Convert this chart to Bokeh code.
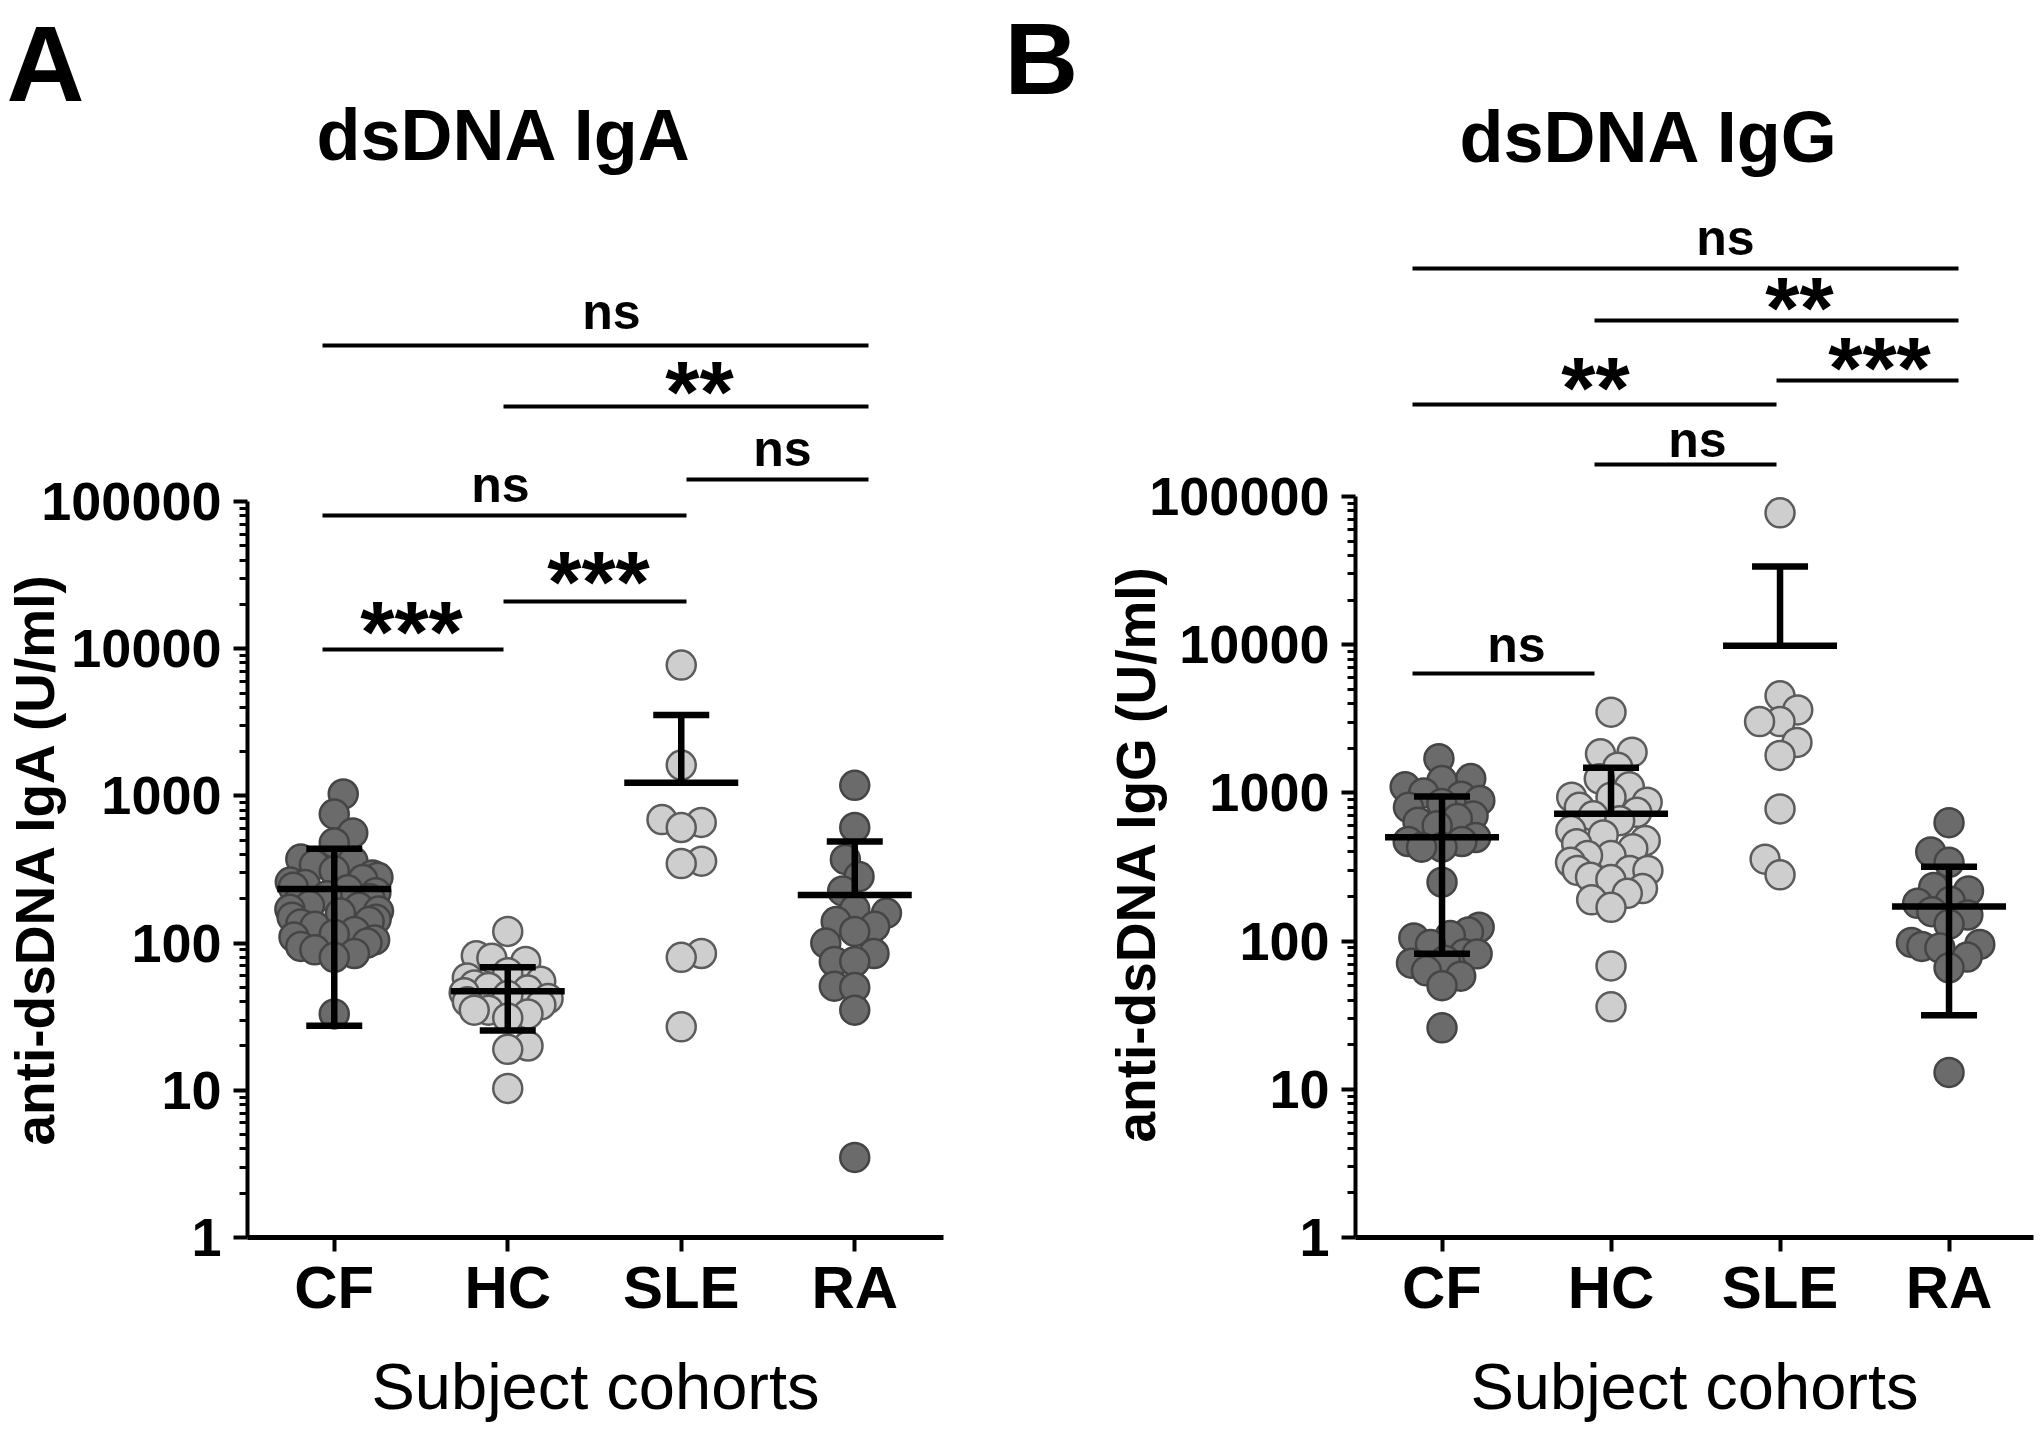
import numpy as np
from bokeh.plotting import figure
from bokeh.models import Range1d, FixedTicker, NumeralTickFormatter, Label, ColumnDataSource, Title
from bokeh.layouts import row
from bokeh.embed import file_html
from bokeh.resources import INLINE
from bokeh.core.properties import value

# ---------------- data ----------------
CATEGORIES = ["CF", "HC", "SLE", "RA"]
Y_TICKS = [1, 10, 100, 1000, 10000, 100000]

# Panel A : anti-dsDNA IgA (U/ml)
IGA_CF = [1030, 753, 560, 479, 372, 360, 340, 310, 290, 280, 270, 260, 250, 240, 230,
          220, 210, 200, 190, 180, 175, 170, 165, 160, 150, 145, 140, 135, 130, 120,
          115, 110, 105, 100, 95, 90, 85, 80, 33]
IGA_HC = [120, 82, 79, 75, 63, 58, 55, 52, 50, 48, 46, 44, 42, 40, 38, 35, 35, 33, 31,
          20, 19, 10.3]
IGA_SLE = [7740, 1620, 690, 660, 610, 360, 347, 85, 80, 27]
IGA_RA = [1180, 610, 370, 283, 226, 170, 160, 140, 130, 120, 100, 85, 75, 75, 51, 50,
          35, 3.5]
IGA_MEAN = [233, 47, 1230, 212]
IGA_UPPER = [438, 68.5, 3540, 490]
IGA_LOWER = [27.4, 25.5, None, None]
IGA_SIG = [(0, 3, "ns"), (1, 3, "**"), (2, 3, "ns"), (0, 2, "ns"), (1, 2, "***"), (0, 1, "***")]

# Panel B : anti-dsDNA IgG (U/ml)
IGG_CF = [1700, 1250, 1212, 1100, 1000, 950, 889, 848, 800, 700, 671, 634, 600, 500,
          470, 470, 430, 430, 250, 124, 115, 109, 105, 95, 82, 82, 74, 71, 63, 58, 50, 26]
IGG_HC = [3505, 1883, 1836, 1490, 1245, 1100, 935, 935, 865, 800, 740, 700, 650, 557,
          520, 477, 454, 420, 378, 378, 340, 300, 300, 300, 270, 260, 226, 210, 190,
          169, 68, 36]
IGG_SLE = [77600, 4520, 3630, 3030, 3030, 2190, 1790, 780, 357, 280]
IGG_RA = [630, 400, 340, 230, 218, 186, 180, 158, 150, 130, 98, 95, 92, 90, 78, 66, 13]
IGG_MEAN = [502, 723, 9840, 171]
IGG_UPPER = [946, 1477, 33700, 318]
IGG_LOWER = [82, None, None, 31.6]
IGG_SIG = [(0, 3, "ns"), (1, 3, "**"), (2, 3, "***"), (0, 2, "**"), (1, 2, "ns"), (0, 1, "ns")]

# ---------------- styles / layout ----------------
FONT = "Liberation Sans"
DARK_FILL, DARK_LINE = "#6b6b6b", "#454545"
LIGHT_FILL, LIGHT_LINE = "#cecece", "#5c5c5c"
FILLS = [DARK_FILL, LIGHT_FILL, LIGHT_FILL, DARK_FILL]
EDGES = [DARK_LINE, LIGHT_LINE, LIGHT_LINE, DARK_LINE]

H = 1431
FRAME_TOP_PAGE = 84
AXIS_PAGE_Y = 1237

# sig_pos: (line page y, text page x, text page y)
GEOM_A = dict(fig_x0=0, width=1000, frame_l=247, frame_r=943, unit_px=173.5,
              x_start=-0.5, decade=147.2,
              anchors=[322, 503, 686, 868],
              sig_pos=[(345, 611, 311), (406, 699, 391), (479, 782, 448),
                       (515, 500, 484), (601, 598, 581), (649, 411, 631)],
              letter=("A", 6, "108px", -78), title=(504, 134),
              ylabel_offset=92, ylabel_standoff=-54)
GEOM_B = dict(fig_x0=1000, width=1038, frame_l=1355, frame_r=2033, unit_px=169.0,
              x_start=-0.512, decade=148.2,
              anchors=[1412, 1594, 1776, 1958],
              sig_pos=[(268, 1725, 237), (320, 1799, 307), (380, 1879, 367),
                       (404, 1595, 387), (464, 1697, 439), (673, 1516, 644)],
              letter=("B", 1004, "102px", -63), title=(1649, 136),
              ylabel_offset=95, ylabel_standoff=-40)


def swarm_offsets(vals, decade_px, unit_px, gap, max_half):
    """Deterministic beeswarm: nearest free slot to the centre, softly limited in width."""
    ys = np.log10(np.asarray(vals, float)) * decade_px
    order = np.argsort(ys)
    placed = []
    xs = np.zeros(len(ys))
    for n, i in enumerate(order):
        y = ys[i]
        cands = [0.0]
        for (qx, qy) in placed:
            dy = y - qy
            if abs(dy) < gap:
                dx = np.sqrt(gap * gap - dy * dy)
                cands += [qx + dx, qx - dx]
        sgn = 1 if n % 2 else -1
        cands.sort(key=lambda c: (round(abs(c), 6), sgn * c))
        for c in cands:
            if all((c - qx) ** 2 + (y - qy) ** 2 >= gap * gap - 1e-6 for qx, qy in placed):
                xs[i] = c
                placed.append((c, y))
                break
    xs = max_half * np.tanh(xs / max_half)
    return xs / unit_px


def build_panel(groups, means, uppers, lowers, sig, title, ylabel, g):
    def px2x(px):
        return g["x_start"] + (px - g["frame_l"]) / g["unit_px"]

    def py2y(py):
        return 10 ** ((AXIS_PAGE_Y - py) / g["decade"])

    x_end = px2x(g["frame_r"])
    y_end = py2y(FRAME_TOP_PAGE)
    p = figure(width=g["width"], height=H,
               x_range=Range1d(g["x_start"], x_end), y_range=Range1d(1, y_end),
               y_axis_type="log", output_backend="svg", toolbar_location=None,
               min_border_left=g["frame_l"] - g["fig_x0"],
               min_border_right=g["fig_x0"] + g["width"] - g["frame_r"],
               min_border_top=FRAME_TOP_PAGE,
               min_border_bottom=H - AXIS_PAGE_Y)
    p.outline_line_color = None
    p.grid.visible = False
    p.background_fill_color = "white"
    p.border_fill_color = "white"
    p.title.visible = False

    # y axis
    ya = p.yaxis[0]
    ya.ticker = FixedTicker(ticks=Y_TICKS,
                            minor_ticks=[m * 10 ** k for k in range(5) for m in range(2, 10)])
    ya.formatter = NumeralTickFormatter(format="0")
    ya.bounds = (1, 100000)
    ya.axis_line_width = 4
    ya.major_tick_line_width = 4
    ya.major_tick_out = 14
    ya.major_tick_in = 0
    ya.minor_tick_line_width = 3
    ya.minor_tick_out = 8
    ya.minor_tick_in = 0
    ya.major_label_standoff = 12
    ya.major_label_text_font = FONT
    ya.major_label_text_font_style = "bold"
    ya.major_label_text_font_size = "54px"
    ya.major_label_text_color = "black"

    # x axis
    xa = p.xaxis[0]
    xa.ticker = FixedTicker(ticks=list(range(len(CATEGORIES))))
    xa.major_label_overrides = {i: c for i, c in enumerate(CATEGORIES)}
    xa.axis_line_width = 5
    xa.major_tick_line_width = 4
    xa.major_tick_out = 14
    xa.major_tick_in = 0
    xa.minor_tick_line_color = None
    xa.major_label_standoff = 2
    xa.major_label_text_font = FONT
    xa.major_label_text_font_style = "bold"
    xa.major_label_text_font_size = "60px"
    xa.major_label_text_color = "black"
    xa.axis_label = "Subject cohorts"
    xa.axis_label_text_font = FONT
    xa.axis_label_text_font_style = "normal"
    xa.axis_label_text_font_size = "65px"
    xa.axis_label_text_color = "black"
    xa.axis_label_standoff = 26

    # points (beeswarm layout)
    for i, vals in enumerate(groups):
        offs = swarm_offsets(vals, g["decade"], g["unit_px"], 22.0, 46.0)
        src = ColumnDataSource(dict(x=i + offs, y=vals))
        p.scatter("x", "y", source=src, marker="circle", size=29,
                  fill_color=FILLS[i], line_color=EDGES[i], line_width=2.5)

    # mean + SD bars
    half_mean = 57 / g["unit_px"]
    half_cap = 28 / g["unit_px"]
    x0s, y0s, x1s, y1s = [], [], [], []
    for i, (m, up, lo) in enumerate(zip(means, uppers, lowers)):
        x0s.append(i - half_mean); x1s.append(i + half_mean); y0s.append(m); y1s.append(m)
        bottom = lo if lo is not None else m
        x0s.append(i); x1s.append(i); y0s.append(bottom); y1s.append(up)
        x0s.append(i - half_cap); x1s.append(i + half_cap); y0s.append(up); y1s.append(up)
        if lo is not None:
            x0s.append(i - half_cap); x1s.append(i + half_cap); y0s.append(lo); y1s.append(lo)
    p.segment(x0=x0s, y0=y0s, x1=x1s, y1=y1s, line_color="black", line_width=6.5)

    # significance brackets
    anc = [px2x(a) for a in g["anchors"]]
    bx0, bx1, by = [], [], []
    tx, ty, tt, tfs = [], [], [], []
    for (i, j, lab), (ly, txp, typ) in zip(sig, g["sig_pos"]):
        bx0.append(anc[i]); bx1.append(anc[j]); by.append(py2y(ly))
        tx.append(px2x(txp)); ty.append(py2y(typ)); tt.append(lab)
        tfs.append("50px" if lab == "ns" else "88px")
    p.segment(x0=bx0, y0=by, x1=bx1, y1=by, line_color="black", line_width=4)
    p.text(x=tx, y=ty, text=tt, text_font=value(FONT), text_font_style="bold",
           text_font_size=tfs, text_align="center", text_baseline="alphabetic",
           text_color="black")

    # chart title (inside the frame area)
    tx_, ty_ = g["title"]
    p.add_layout(Label(x=px2x(tx_), y=py2y(ty_), text=title, text_font=FONT,
                       text_font_style="bold", text_font_size="72px", text_align="center",
                       text_baseline="alphabetic", text_color="black"))

    # panel letter (above panel) and y-axis label (left panel)
    letter, lx, lfs, lstand = g["letter"]
    p.add_layout(Title(text=letter, align="left", offset=lx - g["frame_l"], standoff=lstand,
                       vertical_align="bottom", text_font=FONT, text_font_style="bold",
                       text_font_size=lfs, text_color="black"), "above")
    p.add_layout(Title(text=ylabel, align="left", offset=g["ylabel_offset"],
                       standoff=g["ylabel_standoff"], vertical_align="bottom",
                       text_font=FONT, text_font_style="bold", text_font_size="55px",
                       text_color="black"), "left")
    return p


pA = build_panel([IGA_CF, IGA_HC, IGA_SLE, IGA_RA], IGA_MEAN, IGA_UPPER, IGA_LOWER,
                 IGA_SIG, "dsDNA IgA", "anti-dsDNA IgA (U/ml)", GEOM_A)
pB = build_panel([IGG_CF, IGG_HC, IGG_SLE, IGG_RA], IGG_MEAN, IGG_UPPER, IGG_LOWER,
                 IGG_SIG, "dsDNA IgG", "anti-dsDNA IgG (U/ml)", GEOM_B)

layout = row(pA, pB)
open("out.html", "w").write(file_html(layout, INLINE))
